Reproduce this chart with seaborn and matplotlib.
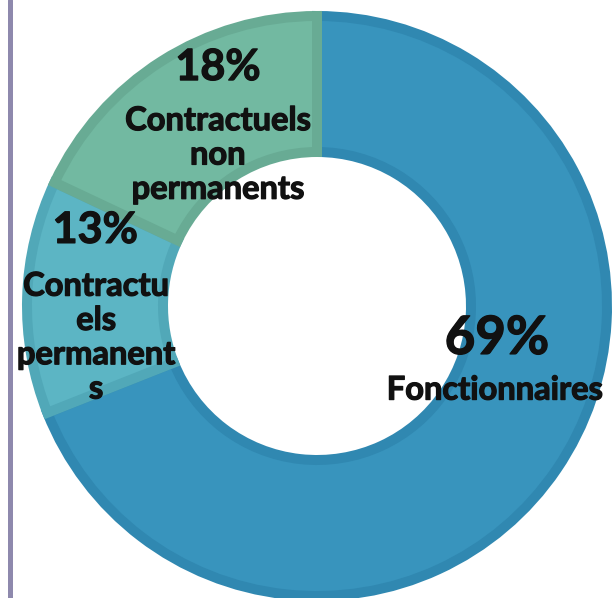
import matplotlib
matplotlib.use("Agg")
import matplotlib.pyplot as plt
import matplotlib.patheffects as pe
from matplotlib.lines import Line2D
import seaborn as sns

# Staff breakdown by status (percent)
categories = ["Fonctionnaires", "Contractuels permanents", "Contractuels non permanents"]
shares = [69, 13, 18]
label_lines = ["Fonctionnaires", "Contractu\nels\npermanent\ns", "Contractuels\nnon\npermanents"]

fill_colors = ["#3894bd", "#5cb5c4", "#72b9a1"]
edge_colors = ["#3088b1", "#51a8b8", "#68ab94"]

sns.set_theme(style="white")
plt.rcParams["font.family"] = ["Lato", "DejaVu Sans"]

W, H = 613, 598
fig = plt.figure(figsize=(W / 100, H / 100), dpi=100)
ax = fig.add_axes([0, 0, 1, 1])

# centre of the ring in pixels and outer radius
cx, cy, R = 317, 306, 295

edge_px = 10
outer = (R - edge_px / 2) / R
inner = (149 + edge_px / 2) / R

wedges, _ = ax.pie(
    shares,
    colors=fill_colors,
    startangle=90,
    counterclock=False,
    radius=outer,
    wedgeprops=dict(width=outer - inner, linewidth=edge_px * 0.72),
    center=(0, 0),
    frame=False,
)
for w, ec in zip(wedges, edge_colors):
    w.set_edgecolor(ec)
ax.set_xlim(-cx / R, (W - cx) / R)
ax.set_ylim(-(H - cy) / R, cy / R)
ax.set_aspect("auto")
ax.set_axis_off()

# label anchors (ring units): percentage position, name position
pct_pos = [(0.61, -0.11), (-0.752, 0.258), (-0.336, 0.81)]
name_pos = [(0.603, -0.285), (-0.749, -0.107), (-0.336, 0.512)]
pct_size = [38, 31, 31]
name_size = [23.5, 23.5, 23.5]

heavy = [pe.withStroke(linewidth=0.9, foreground="#111111")]
for val, name, (px, py), (nx, ny), ps, ns in zip(shares, label_lines, pct_pos, name_pos, pct_size, name_size):
    ax.text(px, py, f"{val}%", ha="center", va="center", fontsize=ps,
            fontweight="bold", color="#111111", path_effects=heavy)
    ax.text(nx, ny, name, ha="center", va="center", fontsize=ns,
            fontweight="bold", color="#111111", linespacing=1.22, path_effects=heavy)

# vertical rule on the left margin
fig.add_artist(Line2D([9.5 / W, 9.5 / W], [0, 1], color="#8e89ad", linewidth=3.6,
                      transform=fig.transFigure))

fig.savefig("out.png", dpi=100)
